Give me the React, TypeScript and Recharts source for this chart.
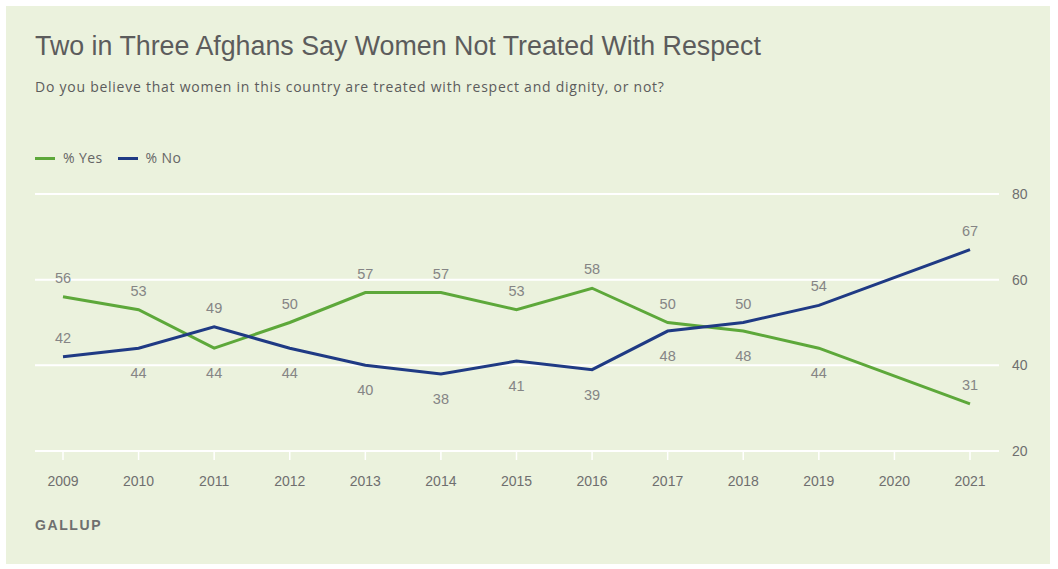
import { CartesianGrid, LineChart, Line, XAxis, YAxis } from "recharts";

const years = ["2009", "2010", "2011", "2012", "2013", "2014", "2015", "2016", "2017", "2018", "2019", "2020", "2021"];
const yesValues: (number | null)[] = [56, 53, 44, 50, 57, 57, 53, 58, 50, 48, 44, null, 31];
const noValues: (number | null)[] = [42, 44, 49, 44, 40, 38, 41, 39, 48, 50, 54, null, 67];
const yTicks = [20, 40, 60, 80];

const GREEN = "#5DA83A";
const BLUE = "#1F3A84";
const FONT = "'Liberation Sans', Arial, sans-serif";
const WIDE = "'Open Sans', 'Liberation Sans', sans-serif";

const data = years.map((y, i) => ({ year: y, yes: yesValues[i], no: noValues[i] }));

// label above if higher than the other series (endpoints always above)
function makeLabel(own: (number | null)[], other: (number | null)[]) {
  return (props: any) => {
    const { x, y, index } = props;
    const v = own[index];
    if (v == null || x == null || y == null) return null;
    const o = other[index];
    const last = own.length - 1;
    const above = index === 0 || index === last || o == null || v >= o;
    return (
      <text
        x={x}
        y={above ? y - 14 : y + 30}
        textAnchor="middle"
        fill="#858585"
        fontSize={14.5}
        fontFamily={FONT}
      >
        {v}
      </text>
    );
  };
}

export default function App() {
  return (
    <div style={{ position: "absolute", left: 0, top: 0, width: 1058, height: 569, background: "#fff", fontFamily: FONT }}>
      <div style={{ position: "absolute", left: 6, top: 6, width: 1044, height: 558, background: "#EBF2DD" }} />
      <div style={{ position: "absolute", left: 35, top: 31, fontSize: 26.8, lineHeight: "30px", color: "#5c5c5c" }}>
        Two in Three Afghans Say Women Not Treated With Respect
      </div>
      <div style={{ position: "absolute", left: 35, top: 78, fontSize: 14, lineHeight: "18px", color: "#5c5c5c", fontFamily: WIDE, letterSpacing: 0.75 }}>
        Do you believe that women in this country are treated with respect and dignity, or not?
      </div>
      <div style={{ position: "absolute", left: 35, top: 150, fontSize: 14, lineHeight: "16px", color: "#666", display: "flex", alignItems: "center", fontFamily: WIDE, letterSpacing: 0.4 }}>
        <span style={{ display: "inline-block", width: 20, height: 3, background: GREEN, marginRight: 8 }} />
        <span>% Yes</span>
        <span style={{ display: "inline-block", width: 20, height: 3, background: BLUE, marginLeft: 15, marginRight: 8 }} />
        <span>% No</span>
      </div>
      <div style={{ position: "absolute", left: 35, top: 517, fontSize: 14, lineHeight: "16px", color: "#6f6f6f", letterSpacing: 1.6, fontWeight: 600 }}>
        GALLUP
      </div>
      <div style={{ position: "absolute", left: 0, top: 0 }}>
        <LineChart width={1058} height={569} data={data} margin={{ top: 194, right: 0, bottom: 58, left: 35 }}>
          <CartesianGrid stroke="#ffffff" strokeWidth={2} vertical={false} />
          <XAxis
            dataKey="year"
            padding={{ left: 28, right: 29 }}
            axisLine={false}
            tickLine={{ stroke: "#ffffff", strokeWidth: 1.5 }}
            tickSize={9}
            tickMargin={16}
            height={60}
            interval={0}
            tick={{ fill: "#6f6f6f", fontSize: 14, fontFamily: FONT }}
          />
          <YAxis
            orientation="right"
            domain={[20, 80]}
            ticks={yTicks}
            width={59}
            axisLine={false}
            tickLine={false}
            tickSize={0}
            tickMargin={13}
            tick={{ fill: "#6f6f6f", fontSize: 14, fontFamily: FONT }}
          />
          <Line
            type="linear"
            dataKey="yes"
            stroke={GREEN}
            strokeWidth={3}
            dot={false}
            connectNulls
            isAnimationActive={false}
            label={makeLabel(yesValues, noValues)}
          />
          <Line
            type="linear"
            dataKey="no"
            stroke={BLUE}
            strokeWidth={3}
            dot={false}
            connectNulls
            isAnimationActive={false}
            label={makeLabel(noValues, yesValues)}
          />
        </LineChart>
      </div>
    </div>
  );
}
